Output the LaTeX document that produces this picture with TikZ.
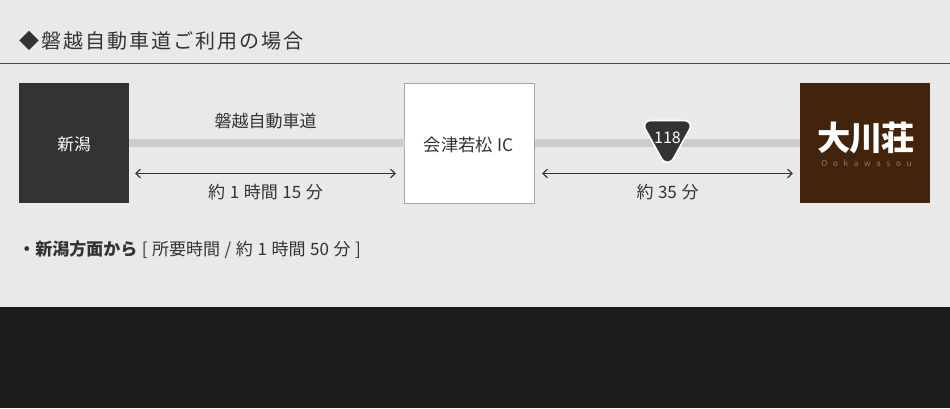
\documentclass[tikz,border=0pt]{standalone}
\usepackage{fontspec}
\setmainfont[WordSpace=1.2]{Noto Sans CJK JP}
\newfontfamily\titlefont[LetterSpace=10]{Noto Sans CJK JP}
\newfontfamily\logofont[LetterSpace=-3]{Noto Sans CJK JP}
\usetikzlibrary{arrows.meta}
\definecolor{bg}{HTML}{E9E9E9}
\definecolor{ink}{HTML}{333333}
\definecolor{road}{HTML}{CCCCCC}
\definecolor{dark}{HTML}{1C1C1C}
\definecolor{brown}{HTML}{42230B}
\definecolor{rule}{HTML}{4A4A4A}
\tikzset{
  lbl/.style={text=ink,font=\fontsize{12.75pt}{14pt}\selectfont,inner sep=0pt,anchor=center},
  stopbox/.style={minimum width=82.5pt,minimum height=90pt,inner sep=0pt,outer sep=0pt},
  roadline/.style={draw=road,line width=6pt},
  span/.style={draw=ink,line width=0.85pt,{Straight Barb[length=3.5pt,width=6.5pt]}-{Straight Barb[length=3.5pt,width=6.5pt]}}
}
\begin{document}
\begin{tikzpicture}[x=0.75pt,y=-0.75pt]
\useasboundingbox (0,0) rectangle (950,408);
\fill[bg] (0,0) rectangle (950,408);
\fill[dark] (0,307) rectangle (950,408);
% header
\node[anchor=west,text=ink,inner sep=0pt,font=\fontsize{15pt}{18pt}\titlefont] (title) at (19,41) {◆磐越自動車道ご利用の場合};
\coordinate (hl) at (0,63.5); \coordinate (hr) at (950,63.5);
\draw[draw=rule,line width=1pt] (hl) -- (hr);
% stops
\node[stopbox,fill=ink] (niigata) at (74,143) {};
\node[text=white,inner sep=0pt,font=\fontsize{12.4pt}{14pt}\selectfont] (niigatatext) at (74,144.5) {新潟};
\node[stopbox,minimum width=97.5pt,fill=white,draw=black!35,line width=0.75pt] (aizu) at (469.5,143) {};
\node[text=ink,inner sep=0pt,font=\fontsize{13pt}{15pt}\selectfont] (aizutext) at (469,144.5) {会津若松 IC};
\node[stopbox,minimum width=97.5pt,fill=brown] (logo) at (865,143) {};
\node[text=white,inner sep=0pt,font=\fontsize{25pt}{26pt}\bfseries\logofont] (logotext) at (866,138) {大川荘};
\node[text=white!40!brown,inner sep=0pt,font=\fontsize{6.2pt}{7pt}\addfontfeature{LetterSpace=68}] (logosub) at (866.5,163) {Ookawasou};
% roads
\draw[roadline] (niigata.east) -- (aizu.west);
\draw[roadline] (aizu.east) -- (logo.west);
% shield
\draw[fill=ink,draw=white,line width=1.2pt] (651,120.5) -- (684,120.5)
  .. controls (689,120.5) and (691.5,124) .. (690,128.5)
  -- (674,157.5)
  .. controls (670.5,164) and (664.5,164) .. (661,157.5)
  -- (645,128.5)
  .. controls (643.5,124) and (646,120.5) .. (651,120.5) -- cycle;
\node[text=white,inner sep=0pt,font=\fontsize{12pt}{14pt}\selectfont] (r118) at (667.5,137.5) {118};
% labels
\node[lbl] (hw) at (265.5,121.5) {磐越自動車道};
\coordinate (a1) at (135,173.5); \coordinate (a2) at (396,173.5);
\coordinate (b1) at (542,173.5); \coordinate (b2) at (793,173.5);
\draw[span] (a1) -- (a2);
\draw[span] (b1) -- (b2);
\node[lbl] (t1) at (265.5,192) {約 1 時間 15 分};
\node[lbl] (t2) at (667.5,192) {約 35 分};
\node[lbl,anchor=west] (note) at (18,250) {\textbf{・新潟方面から} [ 所要時間 / 約 1 時間 50 分 ]};
\end{tikzpicture}
\end{document}
